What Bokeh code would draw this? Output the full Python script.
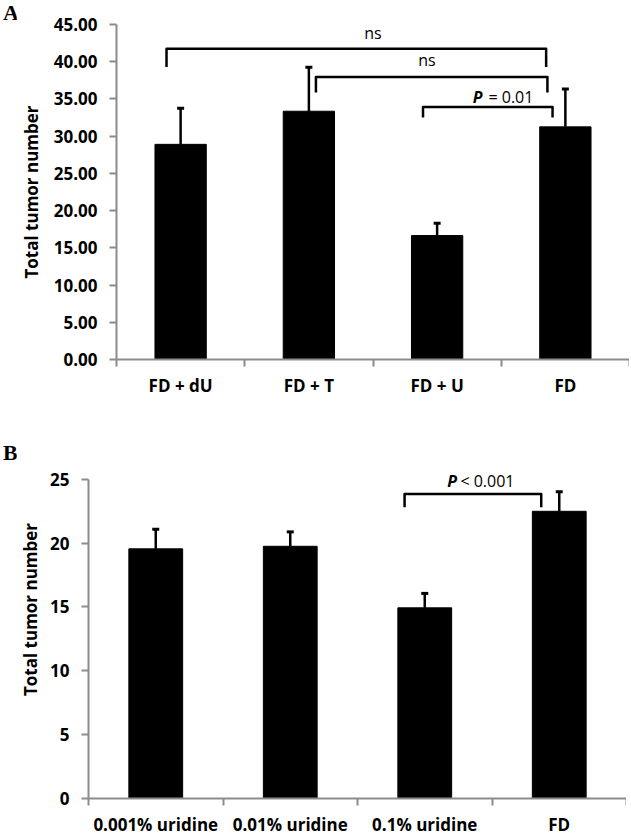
from bokeh.plotting import figure
from bokeh.layouts import row
from bokeh.models import (Range1d, FixedTicker, NumeralTickFormatter, Whisker, TeeHead,
                          ColumnDataSource, Label, Div)
from bokeh.embed import file_html
from bokeh.resources import INLINE

# ---------------- data ----------------
a_categories = ["FD + dU", "FD + T", "FD + U", "FD"]
a_means = [28.9, 33.35, 16.65, 31.25]
a_errors = [4.85, 5.9, 1.65, 5.1]
a_ticks = [0, 5, 10, 15, 20, 25, 30, 35, 40, 45]

b_categories = ["0.001% uridine", "0.01% uridine", "0.1% uridine", "FD"]
b_means = [19.55, 19.75, 14.93, 22.49]
b_errors = [1.53, 1.13, 1.13, 1.54]
b_ticks = [0, 5, 10, 15, 20, 25]

AXIS_GREY = "#8c8c8c"
FONT = "Open Sans"


def make_panel(categories, means, errors, yticks, ymax, yend, width, height,
               border_left, border_top, border_bottom, yfmt, label_standoff):
    n = len(categories)
    centers = [i + 0.5 for i in range(n)]
    uppers = [m + e for m, e in zip(means, errors)]
    src = ColumnDataSource(dict(x=centers, top=means, upper=uppers, cat=categories))

    p = figure(width=width, height=height, output_backend="svg", toolbar_location=None,
               x_range=Range1d(0, n), y_range=Range1d(0, yend),
               min_border_left=border_left, min_border_right=0,
               min_border_top=border_top, min_border_bottom=border_bottom)
    p.outline_line_color = None
    p.grid.visible = False
    p.background_fill_color = "white"
    p.border_fill_color = "white"

    p.vbar(x="x", top="top", width=0.4, bottom=0, source=src,
           fill_color="black", line_color="black")
    w = Whisker(base="x", lower="top", upper="upper", source=src,
                line_color="black", line_width=2.5,
                upper_head=TeeHead(size=7, line_width=3, line_color="black"),
                lower_head=None, level="glyph")
    p.add_layout(w)

    # y axis
    ya = p.yaxis[0]
    ya.bounds = (0, ymax)
    ya.ticker = FixedTicker(ticks=yticks, minor_ticks=[])
    ya.formatter = NumeralTickFormatter(format=yfmt)
    ya.axis_line_color = AXIS_GREY
    ya.axis_line_width = 2
    ya.major_tick_line_color = AXIS_GREY
    ya.major_tick_line_width = 2
    ya.major_tick_in = 0
    ya.major_tick_out = 7
    ya.minor_tick_line_color = None
    ya.major_label_text_font = FONT
    ya.major_label_text_font_style = "bold"
    ya.major_label_text_font_size = "17px"
    ya.major_label_text_color = "black"
    ya.major_label_standoff = 12
    ya.axis_label = "Total tumor number"
    ya.axis_label_text_font = FONT
    ya.axis_label_text_font_style = "bold"
    ya.axis_label_text_font_size = "17px"
    ya.axis_label_text_color = "black"
    ya.axis_label_standoff = label_standoff

    # x axis: labels at category centres, tick marks at category boundaries
    xa = p.xaxis[0]
    xa.ticker = FixedTicker(ticks=centers, minor_ticks=list(range(n + 1)))
    xa.major_label_overrides = {c: cat for c, cat in zip(centers, categories)}
    xa.axis_line_color = AXIS_GREY
    xa.axis_line_width = 2
    xa.major_tick_line_color = None
    xa.major_tick_in = 0
    xa.major_tick_out = 0
    xa.minor_tick_line_color = AXIS_GREY
    xa.minor_tick_line_width = 2
    xa.minor_tick_in = 0
    xa.minor_tick_out = 7
    xa.major_label_text_font = FONT
    xa.major_label_text_font_style = "bold"
    xa.major_label_text_font_size = "17px"
    xa.major_label_text_color = "black"
    xa.major_label_standoff = 7
    return p


def bracket(p, x0, x1, top, leg):
    p.line(x=[x0, x0, x1, x1], y=[leg, top, top, leg], line_color="black",
           line_width=2.5, line_join="round")


def text(p, x, y, s, align="center", style="normal", size="16px"):
    p.add_layout(Label(x=x, y=y, text=s, text_align=align, text_baseline="middle",
                       text_font=FONT, text_font_style=style, text_font_size=size,
                       text_color="black"))


def letter(s, pad_top):
    return Div(text=s, width=16, height=30, margin=0,
               styles={"font-family": "Liberation Serif", "font-weight": "bold",
                       "font-size": "22px", "line-height": "1.2", "color": "black",
                       "padding-left": "3px", "padding-top": f"{pad_top}px"})


# ---------------- panel A ----------------
pa = make_panel(a_categories, a_means, a_errors, a_ticks, 45, 45, 613, 400,
                99, 24, 41, "0.00", 8)
bracket(pa, 0.39, 3.35, 41.75, 39.3)
bracket(pa, 1.555, 3.36, 37.94, 35.85)
bracket(pa, 2.39, 3.40, 33.93, 32.5)
text(pa, 2.0, 43.8, "ns")
text(pa, 2.42, 40.2, "ns")
text(pa, 2.854, 35.2, "P", align="right", style="bold italic")
text(pa, 2.90, 35.2, "= 0.01", align="left")

# ---------------- panel B ----------------
pb = make_panel(b_categories, b_means, b_errors, b_ticks, 25, 29.6, 610, 438,
                72, 20, 39, "0", 5)
bracket(pb, 2.35, 3.366, 23.85, 22.8)
text(pb, 2.74, 24.9, "P", align="right", style="bold italic")
text(pb, 2.765, 24.9, "< 0.001", align="left")

row_a = row(letter("A", 0), pa, spacing=0)
row_b = row(letter("B", 40), pb, spacing=0)
open("out.html", "w").write(file_html([row_a, row_b], INLINE))
